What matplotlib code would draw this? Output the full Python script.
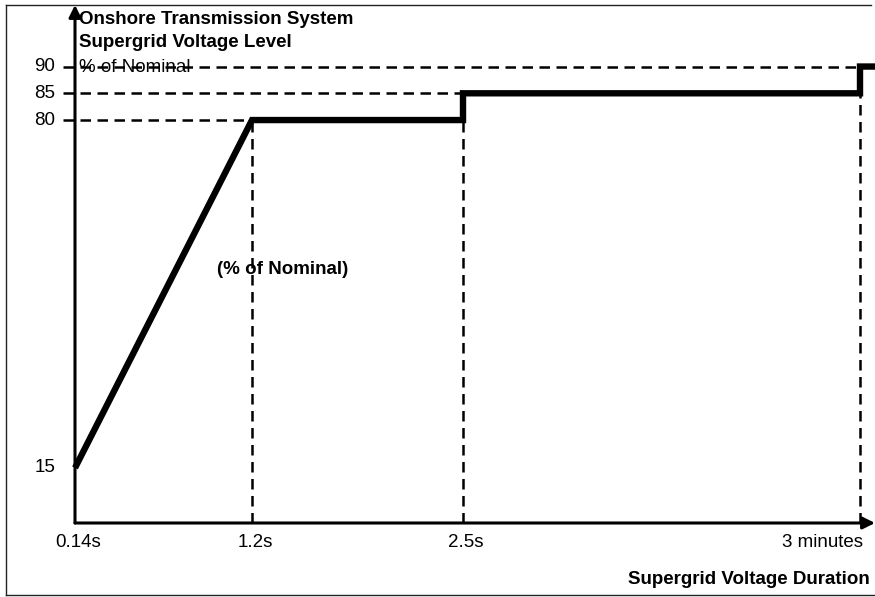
import matplotlib.pyplot as plt
from matplotlib.lines import Line2D

plt.rcParams["font.family"] = ["Liberation Sans", "DejaVu Sans"]

# duration categories (non-linear axis, placed by position)
duration_labels = ["0.14s", "1.2s", "2.5s", "3 minutes"]
duration_pos = [0, 177, 388, 785]
# voltage level (% of nominal) at each breakpoint
level_ticks = [15, 80, 85, 90]

# the withstand profile: ramp, then steps
profile_x = [0, 177, 388, 388, 785, 785, 800]
profile_y = [15, 80, 80, 85, 85, 90, 90]

W, H = 875, 597
fig = plt.figure(figsize=(W / 100, H / 100), dpi=100)

# axes: y-axis at x=75 px, x-axis at y=523 px
ax = fig.add_axes([75 / W, (H - 523) / H, 800 / W, (523 - 5) / H])
ax.set_xlim(0, 800)
ax.set_ylim(4.7, 101.5)
ax.axis("off")

# axis arrows
arrow = dict(arrowstyle="-|>,head_length=0.72,head_width=0.36", lw=2.2, color="black",
             shrinkA=0, shrinkB=0)
ax.annotate("", xy=(800, 4.7), xytext=(0, 4.7), arrowprops=arrow, annotation_clip=False)
ax.annotate("", xy=(0, 101.5), xytext=(0, 4.7), arrowprops=arrow, annotation_clip=False)

dash = dict(color="black", lw=1.8, linestyle=(0, (4.2, 2.6)), clip_on=False)
# horizontal guides from left of the axis to where the level starts
for lvl, xend in zip([80, 85, 90], duration_pos[1:]):
    ax.plot([-12, xend], [lvl, lvl], **dash)
# vertical guides from the level down to the axis
for xp, lvl in zip(duration_pos[1:], [80, 85, 90]):
    ax.plot([xp, xp], [4.7, lvl], **dash)

ax.plot(profile_x, profile_y, color="black", lw=4.6, solid_joinstyle="miter",
        solid_capstyle="butt", clip_on=False, zorder=5)

# tick labels
for lvl in level_ticks:
    ax.text(-20, lvl, str(lvl), ha="right", va="center", fontsize=13.5)
for xp, lab in zip(duration_pos, duration_labels):
    if lab == "3 minutes":
        ax.text(xp + 3, 2.6, lab, ha="right", va="top", fontsize=13.5)
    else:
        ax.text(xp + 3, 2.6, lab, ha="center", va="top", fontsize=13.5)

# titles
ax.text(4, 98.8, "Onshore Transmission System", ha="left", va="center",
        fontsize=13.5, fontweight="bold")
ax.text(4, 94.5, "Supergrid Voltage Level", ha="left", va="center",
        fontsize=13.5, fontweight="bold")
ax.text(4, 89.9, "% of Nominal", ha="left", va="center", fontsize=13.5)
ax.text(142, 52, "(% of Nominal)", ha="left", va="center",
        fontsize=13.5, fontweight="bold")
fig.text(870 / W, (H - 579) / H, "Supergrid Voltage Duration", ha="right",
         va="center", fontsize=13.5, fontweight="bold")

# outer frame (right edge falls outside the picture)
frame = dict(color="#222222", lw=1, transform=fig.transFigure)
fig.add_artist(Line2D([6 / W, 6 / W], [(H - 5) / H, (H - 595) / H], **frame))
fig.add_artist(Line2D([6 / W, 871 / W], [(H - 5) / H, (H - 5) / H], **frame))
fig.add_artist(Line2D([6 / W, 875 / W], [(H - 595) / H, (H - 595) / H], **frame))

fig.savefig("out.png", dpi=100)
